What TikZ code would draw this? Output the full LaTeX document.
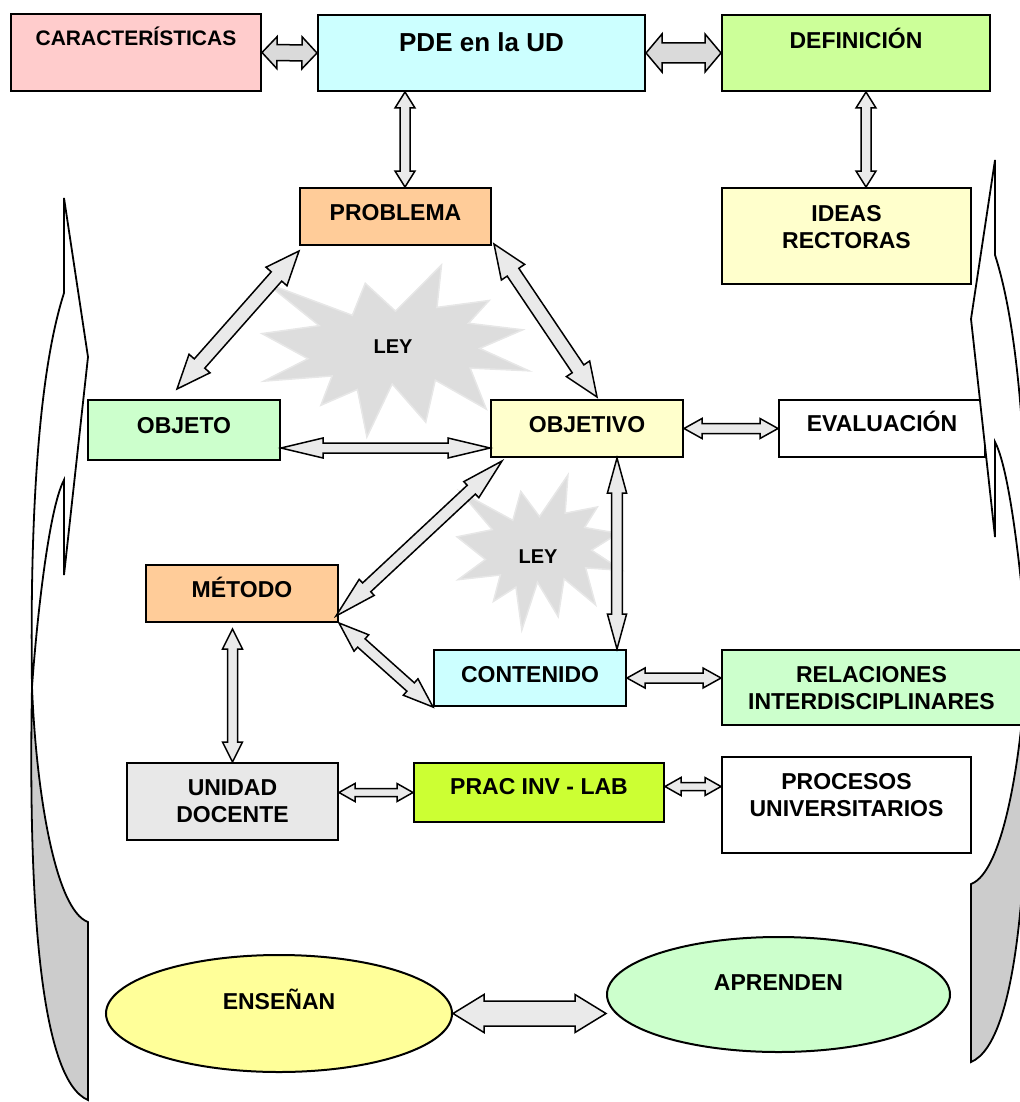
\documentclass[tikz,border=0pt]{standalone}
\usepackage{fontspec}
\setmainfont{Liberation Sans}
\usepackage{tikz}
\usetikzlibrary{calc, shapes.geometric, positioning}

\definecolor{carpink}{RGB}{255,204,204}
\definecolor{pdecyan}{RGB}{204,255,255}
\definecolor{defgreen}{RGB}{204,255,153}
\definecolor{peach}{RGB}{255,204,153}
\definecolor{paleyellow}{RGB}{255,255,204}
\definecolor{palegreen}{RGB}{204,255,204}
\definecolor{udgray}{RGB}{232,232,232}
\definecolor{labgreen}{RGB}{204,255,51}
\definecolor{ensyellow}{RGB}{255,255,153}
\definecolor{arrdark}{RGB}{218,218,218}
\definecolor{arrlight}{RGB}{234,234,234}
\definecolor{burstgray}{RGB}{221,221,221}
\definecolor{curlgray}{RGB}{204,204,204}

% double block arrow: [fill] from, to, shaft half, head half, head length
\newcommand{\blockarr}[6][arrlight]{%
  \filldraw[fill=#1, draw=black, line width=0.75pt]
    (#2) -- ($(#2)!#6!(#3)!#5!90:(#3)$) -- ($(#2)!#6!(#3)!#4!90:(#3)$)
    -- ($(#3)!#6!(#2)!#4!-90:(#2)$) -- ($(#3)!#6!(#2)!#5!-90:(#2)$) -- (#3)
    -- ($(#3)!#6!(#2)!#5!90:(#2)$) -- ($(#3)!#6!(#2)!#4!90:(#2)$)
    -- ($(#2)!#6!(#3)!#4!-90:(#3)$) -- ($(#2)!#6!(#3)!#5!-90:(#3)$) -- cycle;}

% starburst: left, top, width, height
\newcommand{\leyburst}[4]{%
  \begin{scope}[shift={(#1,#2)}, xscale=#3/100, yscale=#4/100]
    \filldraw[fill=burstgray, draw=burstgray!70!white, line width=0.75pt]
      (50,26.85) -- (67.23,0) -- (65.53,24.65) -- (85.09,20.63) -- (77.32,33.87)
      -- (97.67,37.67) -- (81.51,48.50) -- (100,61.53) -- (77.95,59.92)
      -- (84.00,83.77) -- (64.91,66.93) -- (61.33,91.38) -- (48.76,69.14)
      -- (39.28,100) -- (35.72,72.35) -- (22.05,81.56) -- (26.24,64.52)
      -- (0.63,67.53) -- (17.23,54.51) -- (0,39.88) -- (21.42,35.26)
      -- (1.71,10.63) -- (33.85,29.26) -- (38.67,10.63) -- cycle;
  \end{scope}}

% curved side arrow
\newcommand{\sidecurl}{%
  \filldraw[fill=white, draw=black, line width=0.9pt]
    (64,198) -- (88,357) -- (64,575) -- (64,480)
    .. controls (48,510) and (36,630) .. (32,687)
    .. controls (30,540) and (36,380) .. (64,293) -- cycle;
  \filldraw[fill=curlgray, draw=black, line width=0.9pt]
    (32,687) .. controls (36,790) and (55,910) .. (88,922)
    -- (88,1100) .. controls (40,1080) and (28,900) .. (32,687) -- cycle;}

\begin{document}
\begin{tikzpicture}[
  x=0.5pt, y=-0.5pt,
  box/.style={draw, line width=1pt, align=center, inner sep=2pt, text depth=4pt,
    font=\bfseries\fontsize{11.5}{13.5}\selectfont},
  oval/.style={box, ellipse},
  leytext/.style={font=\bfseries\fontsize{10}{12}\selectfont, text depth=0pt}
]
  \useasboundingbox (0,0) rectangle (1020,1102);
  \clip (0,0) rectangle (1020,1102);

  % laws
  \leyburst{262}{265}{267}{172}
  \leyburst{457}{475}{165}{155}
  \node[leytext] (ley1) at (393,347) {LEY};
  \node[leytext] (ley2) at (538,557) {LEY};

  % top row
  \node[box, fill=carpink, minimum width=125pt, minimum height=38.5pt, text depth=16pt,
    font=\bfseries\fontsize{10.5}{12.5}\selectfont] (car) at (136,52.5) {CARACTERÍSTICAS};
  \node[box, fill=pdecyan, minimum width=163.5pt, minimum height=38pt, text depth=11pt,
    font=\bfseries\fontsize{13}{15}\selectfont] (pde) at (481.5,53) {PDE en la UD};
  \node[box, fill=defgreen, minimum width=134pt, minimum height=38pt, text depth=15pt] (def) at (856,53) {DEFINICIÓN};

  \node[box, fill=peach, minimum width=95.5pt, minimum height=28.5pt] (probl) at (395.5,216.5) {PROBLEMA};
  \node[box, fill=paleyellow, minimum width=124.5pt, minimum height=48pt, text depth=9pt] (ideas) at (846.5,236) {IDEAS\\RECTORAS};

  \node[box, fill=palegreen, minimum width=96pt, minimum height=30pt, text depth=5pt] (objeto) at (184,430) {OBJETO};
  \node[box, fill=paleyellow, minimum width=96pt, minimum height=28.5pt, text depth=4.5pt] (objetivo) at (587,428.5) {OBJETIVO};
  \node[box, fill=white, minimum width=103pt, minimum height=28.5pt, text depth=7pt] (eval) at (882,428.5) {EVALUACIÓN};

  \node[box, fill=peach, minimum width=96pt, minimum height=28.5pt, text depth=6pt] (metodo) at (242,593.5) {MÉTODO};
  \node[box, fill=pdecyan, minimum width=96pt, minimum height=28pt] (contenido) at (530,678) {CONTENIDO};
  \node[box, fill=palegreen, minimum width=149.5pt, minimum height=37.5pt, text depth=0pt] (relac) at (871.5,687.5) {RELACIONES\\INTERDISCIPLINARES};

  \node[box, fill=udgray, minimum width=105.5pt, minimum height=38.5pt, text depth=0pt] (unidad) at (232.5,801.5) {UNIDAD\\DOCENTE};
  \node[box, fill=labgreen, minimum width=125pt, minimum height=29.5pt, text depth=6.5pt] (prac) at (539,792.5) {PRAC INV - LAB};
  \node[box, fill=white, minimum width=124.5pt, minimum height=48pt, text depth=10pt] (procesos) at (846.5,805) {PROCESOS\\UNIVERSITARIOS};

  \node[oval, fill=ensyellow, minimum width=173pt, minimum height=58.5pt, text depth=14pt] (ensenan) at (279,1013.5) {ENSEÑAN};
  \node[oval, fill=palegreen, minimum width=171.5pt, minimum height=57.5pt, text depth=12pt] (aprenden) at (778.5,994.5) {APRENDEN};

  % side arrows
  \begin{scope}
    \sidecurl
  \end{scope}
  \begin{scope}[shift={(1059,-38)}, xscale=-1]
    \sidecurl
  \end{scope}

  % connectors
  \blockarr[arrdark]{car.east}{pde.west}{4pt}{8pt}{7.5pt}
  \blockarr[arrdark]{pde.east}{def.west}{5pt}{9.5pt}{8pt}

  \coordinate (pp1) at ([xshift=4.75pt]probl.north);
  \coordinate (pp0) at (pp1 |- pde.south);
  \blockarr{pp0}{pp1}{2.5pt}{5pt}{8pt}
  \coordinate (di1) at ([xshift=5pt]def.south);
  \coordinate (di2) at (di1 |- ideas.north);
  \blockarr{di1}{di2}{2.5pt}{5pt}{8pt}

  \coordinate (po1) at ($(probl.south west)+(0,5)$);
  \coordinate (po2) at ($(objeto.north)+(-7,-10)$);
  \blockarr{po1}{po2}{3.5pt}{7pt}{17pt}
  \coordinate (pv1) at ($(probl.south east)+(2,-2)$);
  \coordinate (pv2) at ($(objetivo.north)+(10,-2)$);
  \blockarr{pv1}{pv2}{3.5pt}{7pt}{17pt}

  \coordinate (oo1) at ($(objeto.south east)+(0,-13)$);
  \coordinate (oo2) at (oo1 -| objetivo.west);
  \blockarr{oo1}{oo2}{2.5pt}{5pt}{21pt}
  \blockarr{objetivo.east}{eval.west}{2.5pt}{5pt}{9pt}

  \coordinate (om1) at ($(objetivo.south west)+(12,3)$);
  \coordinate (om2) at ($(metodo.south east)+(-3,-7)$);
  \blockarr{om1}{om2}{3pt}{5.5pt}{21pt}
  \coordinate (oc1) at ([xshift=15pt]objetivo.south);
  \coordinate (oc2) at (oc1 |- contenido.north);
  \blockarr{oc1}{oc2}{2.7pt}{4.8pt}{17.5pt}

  \blockarr{metodo.south east}{contenido.south west}{2.8pt}{5.5pt}{15pt}
  \coordinate (cr2) at (contenido.east -| relac.west);
  \blockarr{contenido.east}{cr2}{2.5pt}{5pt}{9pt}

  \coordinate (mu1) at ($(unidad.north |- metodo.south)+(0,6)$);
  \blockarr{mu1}{unidad.north}{2.5pt}{5pt}{10pt}
  \coordinate (ul1) at (prac.west -| unidad.east);
  \blockarr{ul1}{prac.west}{2pt}{4.5pt}{8pt}
  \coordinate (lp1) at ($(prac.east)+(0,-6)$);
  \coordinate (lp2) at (lp1 -| procesos.west);
  \blockarr{lp1}{lp2}{2pt}{4.5pt}{8pt}

  \coordinate (ea2) at (ensenan.east -| aprenden.west);
  \blockarr{ensenan.east}{ea2}{6.25pt}{9.5pt}{15.5pt}
\end{tikzpicture}
\end{document}
